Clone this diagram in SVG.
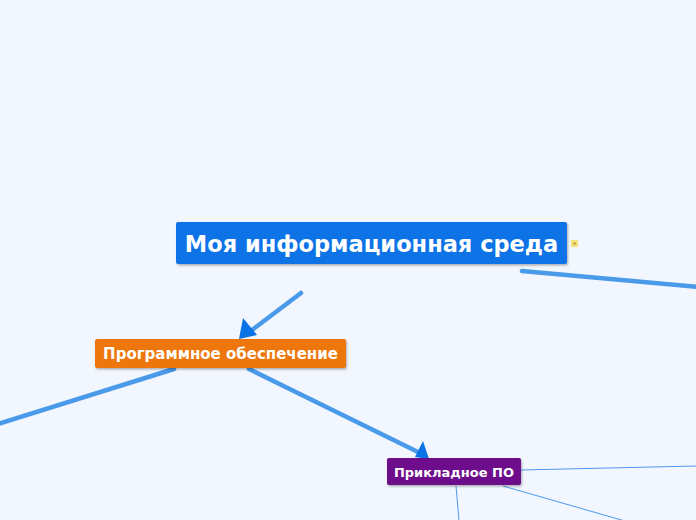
<svg xmlns="http://www.w3.org/2000/svg" width="696" height="520" viewBox="0 0 696 520">
<defs>
<style>
.thick{stroke:#4a9aea;stroke-width:4.5;stroke-linecap:round;fill:none}
.thin{stroke:#4a9aea;stroke-width:1;fill:none}
.lbl{font-family:"DejaVu Sans",Verdana,sans-serif;font-weight:bold;fill:#fff}
.arrow{fill:#0a73e6}
</style>
<filter id="sh" x="-10%" y="-20%" width="120%" height="150%">
<feDropShadow dx="1" dy="1.5" stdDeviation="1" flood-color="#000" flood-opacity="0.3"/>
</filter>
</defs>
<rect width="696" height="520" fill="#f2f6fe"/>
<g id="connectors">
<path class="thick" d="M522,271 L700,287"/>
<path class="thick" d="M301,293 L252,330"/>
<polygon class="arrow" points="239,339 243,318 257,335"/>
<path class="thick" d="M174,369 L-5,425"/>
<path class="thick" d="M249,369 L418,452"/>
<polygon class="arrow" points="429,459 415,457 423,441"/>
<path class="thin" d="M521,470 L696,466"/>
<path class="thin" d="M503,486 L625,521"/>
<path class="thin" d="M456,486 L459,521"/>
</g>
<g id="node-main">
<rect x="176" y="222" width="391" height="42" rx="2" fill="#0a73e6" filter="url(#sh)"/>
<text class="lbl" x="371.5" y="251.5" font-size="22.5" text-anchor="middle">Моя информационная среда</text>
<rect x="571" y="240" width="7" height="7" fill="#f4e27a"/>
<circle cx="574.5" cy="243.5" r="1.5" fill="#c9a94a"/>
</g>
<g id="node-software">
<rect x="95" y="339" width="251" height="29" rx="2" fill="#ed760e" filter="url(#sh)"/>
<text class="lbl" x="220.5" y="359" font-size="15" text-anchor="middle">Программное обеспечение</text>
</g>
<g id="node-applied">
<rect x="387" y="458" width="134" height="27" rx="2" fill="#6d0a8c" filter="url(#sh)"/>
<text class="lbl" x="454" y="476.5" font-size="13" text-anchor="middle">Прикладное ПО</text>
</g>
</svg>
